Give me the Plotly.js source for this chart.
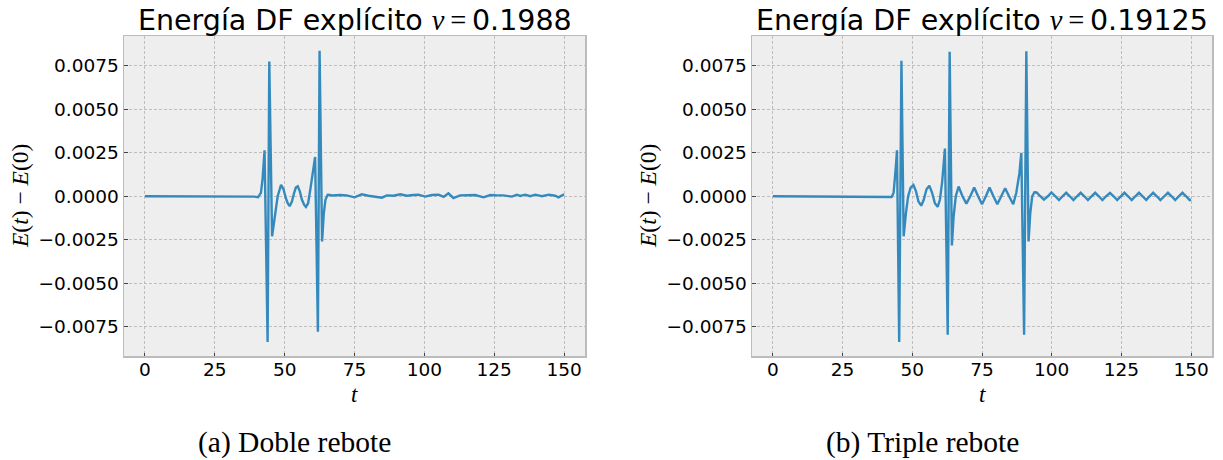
<!DOCTYPE html>
<html><head><meta charset="utf-8">
<script src="https://cdn.plot.ly/plotly-3.0.1.min.js"></script>
<style>html,body{margin:0;padding:0;background:#fff}#chart{width:1223px;height:460px}</style>
</head><body><div id="chart"></div>
<script>
// Panel (a): Doble rebote, v = 0.1988
const tA = [0, 10, 20, 30, 36, 39, 40.5, 41.5, 42.1, 42.6, 42.8, 43.9, 44.5, 45.5, 46.7, 47.5, 48.7, 49.6, 50.4, 51.1, 51.8, 52.6, 53.4, 54.0, 54.7, 55.4, 56.2, 57.0, 57.6, 58.4, 59.2, 60.1, 60.9, 61.9, 62.5, 63.4, 64.0, 64.6, 65.4,
  66.3, 67.0, 69.8, 72.2, 75.0, 77.6, 80.0, 81.8, 84.8, 86.6, 88.9, 91.4, 93.7, 96.1, 97.9, 100.3, 102.7, 105.1, 106.9, 108.6, 110.4, 112.8, 115.2, 118.2, 121.2, 123.6, 125.9, 128.3, 131.3, 133.1, 134.3, 136.1, 137.9, 139.7, 142.1, 144.5, 146.8, 148.0, 150.0];
const eA = [0, 0, 0, 0, 0, -0.00002, -0.00005, 0.0002, 0.001, 0.0021, 0.00264, -0.00838, 0.00775, -0.0023, -0.00077, 0.0, 0.00065, 0.0004, -0.0001, -0.0004, -0.00057, -0.0003, 0.0002, 0.0005, 0.00057, 0.0003, -0.0002, -0.0005, -0.00061, -0.0004, 0.0004, 0.0013, 0.00226, -0.00779, 0.00836, -0.0026, -0.001, -0.0002, 0.00008,
  0.00007, 0.00004, 0.00007, 0.00005, -0.00006, 0.00011, 0.00003, 0.0, -0.00008, 0.00005, 0.00003, 0.00011, 0.00003, 0.00007, 0.00009, -0.00002, 0.00007, 0.00009, -0.00004, 0.00017, -0.0001, 0.00005, 0.00007, 0.00007, -0.00006, 0.00007, 0.00005, 0.00005, -0.00002, 0.00009, 0.00002, 0.00009, 0.0, 0.00009, 0.0, 0.00009, 0.00003, -0.00006, 0.00011];

// Panel (b): Triple rebote, v = 0.19125
const tB = [0, 10, 20, 30, 40, 42.6, 43.3, 43.8, 44.2, 44.5, 45.3, 46.1, 46.9, 47.7, 48.5, 49.4, 50.4, 51.3, 52.2, 53.2, 54.1, 55.1, 56.1, 57.1, 58.1, 59.1, 59.9, 60.7, 61.2, 61.7, 62.7, 63.4, 64.2, 64.8, 65.6, 66.6, 68.0, 69.4, 70.8, 72.2, 73.6, 75.0, 76.4, 77.7, 79.1, 80.5, 81.9, 83.3, 84.7, 86.2, 87.3, 88.4, 89.1, 90.1, 90.9, 91.7, 92.3, 93.0, 93.8, 94.6, 95.9, 97.2, 98.6, 99.9, 101.3, 102.6, 103.9, 105.2, 106.5, 107.8, 109.1, 110.4, 111.7, 113.0, 114.3, 115.6, 116.9, 118.2, 119.5, 120.9, 122.2, 123.5, 124.8, 126.1, 127.4, 128.7, 130.0, 131.3, 132.6, 133.9, 135.1, 136.4, 137.7, 139.0, 140.4, 141.7, 143.0, 144.3, 145.6, 146.9, 148.2, 149.5, 150.0];
const eB = [0, 0, 0, 0, 0, -0.00004, 0.0002, 0.001, 0.0019, 0.00264, -0.00838, 0.00779, -0.0023, -0.001, 0.0, 0.0005, 0.00065, 0.0003, -0.0003, -0.00054, -0.0002, 0.0004, 0.00061, 0.0002, -0.0004, -0.00061, -0.0002, 0.0008, 0.0016, 0.00274, -0.00796, 0.0083, -0.00283, -0.0012, 0.0, 0.00056, 0.0, -0.00042, 0.0, 0.0005, 0.0, -0.00046, 0.0, 0.0005, 0.0, -0.00046, 0.0, 0.00046, 0.0, -0.00046, 0.0002, 0.0013, 0.00249, -0.00796, 0.00834, -0.0026, -0.001, 0.0, 0.00023, 0.00022, 0.0, -0.00019, 0.0, 0.00022, 0.0, -0.00022, 0.0, 0.0002, 0.0, -0.00022, 0.0, 0.0002, 0.0, -0.00022, 0.0, 0.0002, 0.0, -0.00022, 0.0, 0.0002, 0.0, -0.00022, 0.0, 0.0002, 0.0, -0.00022, 0.0, 0.0002, 0.0, -0.00022, 0.0, 0.0002, 0.0, -0.00022, 0.0, 0.0002, 0.0, -0.00022, 0.0, 0.0002, 0.0, -0.00022, -0.0002];

const xTickVals = [0, 25, 50, 75, 100, 125, 150];
const xTickText = ["0", "25", "50", "75", "100", "125", "150"];
const yTickVals = [-0.0075, -0.005, -0.0025, 0, 0.0025, 0.005, 0.0075];
const yTickText = ["\u22120.0075", "\u22120.0050", "\u22120.0025", "0.0000", "0.0025", "0.0050", "0.0075"];
const velocities = ["0.1988", "0.19125"];
const captions = ["(a) Doble rebote", "(b) Triple rebote"];

const W = 1223, H = 460;
const px = v => v / W, py = v => 1 - v / H;
const lineColor = "#348ABD";
const sans = "DejaVu Sans, sans-serif";
const serif = "Liberation Serif, DejaVu Serif, serif";

function xaxis(domain, anchor) {
  return {
    domain: domain, anchor: anchor, range: [-7.5, 157.5], tickvals: xTickVals, ticktext: xTickText,
    showgrid: true, gridcolor: "#b2b2b2", gridwidth: 0.8, griddash: "3px,2px",
    zeroline: false, showline: true, mirror: true, linecolor: "#bcbcbc", linewidth: 1.5,
    ticks: "inside", ticklen: 3.5, tickwidth: 1, tickcolor: "#444", ticklabelstandoff: -4,
    tickfont: {family: sans, size: 18.5, color: "#000"}, fixedrange: true
  };
}
function yaxis(anchor) {
  return {
    domain: [py(356), py(36)], range: [-0.00918, 0.00921], tickvals: yTickVals, ticktext: yTickText,
    anchor: anchor,
    showgrid: true, gridcolor: "#b2b2b2", gridwidth: 0.8, griddash: "3px,2px",
    zeroline: false, showline: true, mirror: true, linecolor: "#bcbcbc", linewidth: 1.5,
    ticks: "inside", ticklen: 3.5, tickwidth: 1, tickcolor: "#444",
    tickfont: {family: sans, size: 18.5, color: "#000"}, fixedrange: true
  };
}

const traces = [
  {x: tA, y: eA, type: "scatter", mode: "lines", line: {color: lineColor, width: 2.4}, xaxis: "x", yaxis: "y", hoverinfo: "skip"},
  {x: tB, y: eB, type: "scatter", mode: "lines", line: {color: lineColor, width: 2.4}, xaxis: "x2", yaxis: "y2", hoverinfo: "skip"}
];

const centers = [354.5, 982];
const ylabX = [20, 648];
const annotations = [];
for (let i = 0; i < 2; i++) {
  annotations.push({
    xref: "paper", yref: "paper", x: px(centers[i]), y: py(21), xanchor: "center", yanchor: "middle", showarrow: false,
    text: "Energía DF explícito <span style=\"font-family:'Liberation Serif';font-style:italic\">v</span><span style=\"font-family:'Liberation Serif'\">\u2009=\u2009</span>" + velocities[i],
    font: {family: sans, size: 28.5, color: "#000"}
  });
  annotations.push({
    xref: "paper", yref: "paper", x: px(centers[i]), y: py(394), xanchor: "center", yanchor: "middle", showarrow: false,
    text: "<i>t</i>", font: {family: serif, size: 23, color: "#000"}
  });
  annotations.push({
    xref: "paper", yref: "paper", x: px(ylabX[i]), y: py(196), xanchor: "center", yanchor: "middle", showarrow: false,
    textangle: -90, text: "<i>E</i>(<i>t</i>) \u2212 <i>E</i>(0)", font: {family: serif, size: 23.5, color: "#000"}
  });
  annotations.push({
    xref: "paper", yref: "paper", x: px(centers[i] - 60), y: py(442), xanchor: "center", yanchor: "middle", showarrow: false,
    text: captions[i], font: {family: serif, size: 29.5, color: "#000"}
  });
}

const layout = {
  width: W, height: H, margin: {l: 0, r: 0, t: 0, b: 0},
  paper_bgcolor: "#ffffff", plot_bgcolor: "#eeeeee", showlegend: false,
  xaxis: xaxis([px(124), px(585)], "y"), yaxis: yaxis("x"),
  xaxis2: xaxis([px(752), px(1212)], "y2"), yaxis2: yaxis("x2"),
  annotations: annotations
};

Plotly.newPlot("chart", traces, layout, {staticPlot: true, displayModeBar: false});
</script>
</body></html>
